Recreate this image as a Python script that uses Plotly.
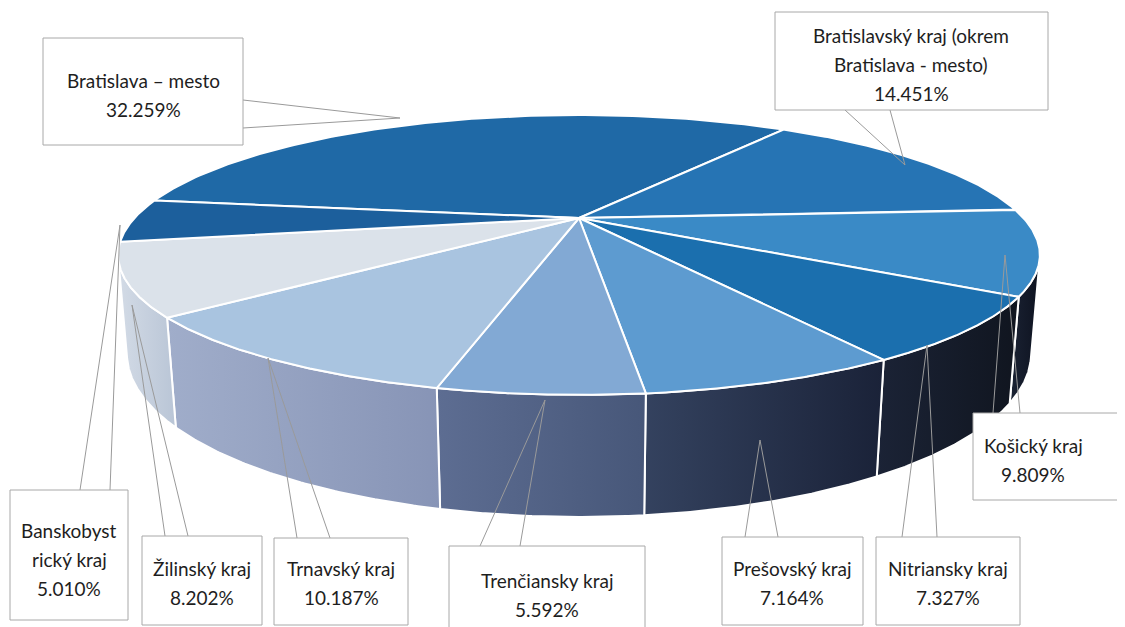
import numpy as np
import plotly.graph_objects as go

# ---------------- data ----------------
regions = [
    "Bratislava – mesto",
    "Bratislavský kraj (okrem Bratislava - mesto)",
    "Košický kraj",
    "Nitriansky kraj",
    "Prešovský kraj",
    "Trenčiansky kraj",
    "Trnavský kraj",
    "Žilinský kraj",
    "Banskobystrický kraj",
]
shares = [32.259, 14.451, 9.809, 7.327, 7.164, 5.592, 10.187, 8.202, 5.010]
label_lines = [
    ["Bratislava – mesto"],
    ["Bratislavský kraj (okrem", "Bratislava - mesto)"],
    ["Košický kraj"],
    ["Nitriansky kraj"],
    ["Prešovský kraj"],
    ["Trenčiansky kraj"],
    ["Trnavský kraj"],
    ["Žilinský kraj"],
    ["Banskobyst", "rický kraj"],
]

# ---------------- style ----------------
top_colors = ["#1f69a6", "#2674b4", "#3a8ac6", "#1b6fae", "#5d9bd0",
              "#82a9d4", "#a9c4e0", "#dbe2ea", "#1c5f9c"]
side_grad = [
    ("#0f2f55", "#0f2f55"),
    ("#12365f", "#12365f"),
    ("#1a2233", "#0e1320"),
    ("#1b2336", "#10151f"),
    ("#34425f", "#1a2238"),
    ("#5d6d92", "#475779"),
    ("#a0adca", "#8794b6"),
    ("#d3dbe6", "#b9c5d6"),
    ("#c8d3e0", "#c8d3e0"),
]

# 3D projection parameters (geometry only)
F, D, ALPHA, H = 1609.0, 3.62, np.radians(17.03), 0.224
CX, CY = 579.0, 218.0
START = 172.0
ca, sa = np.cos(ALPHA), np.sin(ALPHA)
PAGE_OFF = 8  # default page margin of the html body
W, HGT = 1125, 627


def proj(phi_deg, r=1.0, yh=0.0):
    ph = np.radians(phi_deg)
    X = r * np.cos(ph)
    Z = r * np.sin(ph)
    yc = yh * ca + Z * sa
    zc = Z * ca - yh * sa
    return CX + F * X / (D + zc), CY - F * yc / (D + zc)


fig = go.Figure()

# slice angle ranges from the data
total = sum(shares)
bounds = []
a = START
for v in shares:
    a1 = a - v / total * 360.0
    bounds.append((a, a1))
    a = a1

# visible side range (tangent generators)
t = np.degrees(np.arcsin(-1.0 / (D * ca)))
V_HI, V_LO = t, -180.0 - t

# side panels
for i, (a0, a1) in enumerate(bounds):
    hi, lo = min(a0, V_HI), max(a1, V_LO)
    if hi <= lo:
        continue
    ph = np.linspace(hi, lo, 80)
    xt, yt = proj(ph)
    xb, yb = proj(ph[::-1], yh=-H)
    xs = np.concatenate([xt, xb, xt[:1]])
    ys = np.concatenate([yt, yb, yt[:1]])
    c0, c1 = side_grad[i]
    fig.add_trace(go.Scatter(
        x=xs, y=ys, mode="lines", fill="toself",
        fillgradient=dict(type="horizontal", colorscale=[[0, c0], [1, c1]]),
        line=dict(color="white", width=2), hoverinfo="skip", showlegend=False))

# top faces
for i, (a0, a1) in enumerate(bounds):
    ph = np.linspace(a0, a1, 120)
    xa, ya = proj(ph)
    xs = np.concatenate([[CX], xa, [CX]])
    ys = np.concatenate([[CY], ya, [CY]])
    fig.add_trace(go.Scatter(
        x=xs, y=ys, mode="lines", fill="toself", fillcolor=top_colors[i],
        line=dict(color="white", width=2), name=regions[i],
        hoverinfo="name", showlegend=False))

# ---------------- callouts (layout) ----------------
# box x0, y0, x1, y1, text centre x, first line y, leader base pts, tip
callouts = [
    (43, 38, 243, 145, 143, 80, [(243, 100), (243, 128)], (400, 118)),
    (775, 12, 1048, 110, 911, 35, [(845, 110), (890, 110)], (905, 165)),
    (973, 413, 1150, 500, 1033, 445, [(993, 413), (1020, 413)], (1005, 255)),
    (876, 537, 1020, 625, 948, 568, [(902, 537), (937, 537)], (927, 345)),
    (722, 537, 863, 625, 792, 568, [(745, 537), (778, 537)], (760, 440)),
    (449, 546, 645, 640, 547, 580, [(480, 546), (520, 546)], (545, 400)),
    (274, 538, 408, 625, 341, 568, [(297, 538), (330, 538)], (268, 358)),
    (142, 536, 262, 625, 202, 568, [(165, 536), (188, 536)], (132, 305)),
    (10, 490, 128, 620, 69, 530, [(80, 490), (110, 490)], (120, 225)),
]
LINE_H = 29
shapes = []
annotations = []
for i, (x0, y0, x1, y1, tx, ty, base, tip) in enumerate(callouts):
    for bx, by in base:
        shapes.append(dict(type="line", x0=bx, y0=by, x1=tip[0], y1=tip[1],
                           xref="x", yref="y", line=dict(color="#9a9a9a", width=1),
                           layer="above"))
    shapes.append(dict(type="rect", x0=x0, y0=y0, x1=x1, y1=y1, xref="x", yref="y",
                       line=dict(color="#a8a8a8", width=1), fillcolor="white",
                       layer="above"))
    lines = label_lines[i] + [f"{shares[i]:.3f}%"]
    for k, txt in enumerate(lines):
        annotations.append(dict(x=tx, y=ty + k * LINE_H, xref="x", yref="y",
                                text=txt, showarrow=False,
                                font=dict(family="Lato", size=19, color="#1e1e1e"),
                                xanchor="center", yanchor="middle"))

fig.update_layout(
    width=W - PAGE_OFF, height=HGT - PAGE_OFF,
    margin=dict(l=0, r=0, t=0, b=0),
    paper_bgcolor="white", plot_bgcolor="white",
    xaxis=dict(range=[PAGE_OFF, W], visible=False, fixedrange=True),
    yaxis=dict(range=[HGT, PAGE_OFF], visible=False, fixedrange=True),
    shapes=shapes, annotations=annotations,
    showlegend=False,
)
fig.write_html("out.html")
